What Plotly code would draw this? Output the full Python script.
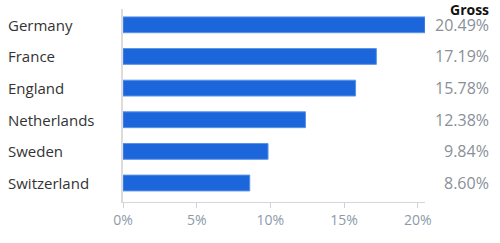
import plotly.graph_objects as go

countries = ["Germany", "France", "England", "Netherlands", "Sweden", "Switzerland"]
gross = [20.49, 17.19, 15.78, 12.38, 9.84, 8.60]
value_labels = ["20.49%", "17.19%", "15.78%", "12.38%", "9.84%", "8.60%"]
x_ticks = [0, 5, 10, 15, 20]
x_tick_labels = ["0%", "5%", "10%", "15%", "20%"]
header = "Gross"

W, H = 500, 243
L, R, T, B = 123, 75, 9, 41
pw = W - L - R
ph = H - T - B

fig = go.Figure(go.Bar(
    x=gross, y=countries, orientation="h",
    marker=dict(color="#1a66da", line=dict(color="#5b92e8", width=1)),
    width=0.5, hoverinfo="skip",
))

font = "Open Sans, Noto Sans, sans-serif"
ann = []
for c, v in zip(countries, value_labels):
    ann.append(dict(x=(6 - L) / pw, y=c, xref="paper", yref="y", text=c,
                    showarrow=False, xanchor="left", yanchor="middle",
                    font=dict(family=font, size=15, color="#333333")))
    ann.append(dict(x=(491 - L) / pw, y=c, xref="paper", yref="y", text=v,
                    showarrow=False, xanchor="right", yanchor="middle",
                    font=dict(family=font, size=16, color="#8a8f99")))
ann.append(dict(x=(491 - L) / pw, y=1 - 0.5 / ph, xref="paper", yref="paper",
                text="<b>" + header + "</b>", showarrow=False, xanchor="right",
                yanchor="middle", font=dict(family=font, size=14, color="#111111")))

fig.update_layout(
    width=W, height=H, margin=dict(l=L, r=R, t=T, b=B),
    paper_bgcolor="white", plot_bgcolor="white", showlegend=False,
    annotations=ann,
    xaxis=dict(range=[0, 20.49], tickvals=x_ticks, ticktext=x_tick_labels,
               showgrid=False, zeroline=False, showline=True, linecolor="#d3d6dc",
               linewidth=1, ticks="outside", ticklen=5, tickcolor="#cfd3d9",
               tickfont=dict(family=font, size=14, color="#8c9aab")),
    yaxis=dict(categoryorder="array", categoryarray=countries[::-1],
               range=[-0.6, 5.5],
               showticklabels=False, showgrid=False, zeroline=False,
               showline=True, linecolor="#dcdcdc", linewidth=2, ticks=""),
)

fig.write_html("out.html")
